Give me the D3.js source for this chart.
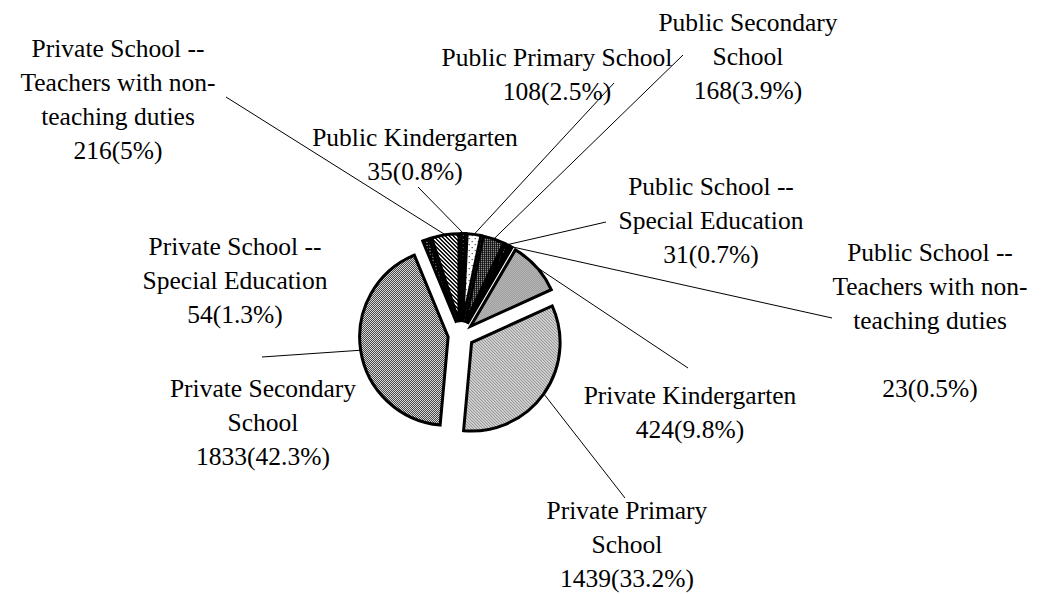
<!DOCTYPE html>
<html>
<head>
<meta charset="utf-8">
<script src="https://cdn.jsdelivr.net/npm/d3@7/dist/d3.min.js"></script>
<style>
  html, body { margin: 0; padding: 0; background: #fff; }
  svg { display: block; }
  text { font-family: "Liberation Serif", "Times New Roman", serif; font-size: 25.5px; fill: #000; }
</style>
</head>
<body>
<svg id="chart" width="1055" height="594"></svg>
<script>
// Teachers by school type (count and printed share)
const categories = [
  "Public Kindergarten",
  "Public Primary School",
  "Public Secondary School",
  "Public School -- Special Education",
  "Public School -- Teachers with non-teaching duties",
  "Private Kindergarten",
  "Private Primary School",
  "Private Secondary School",
  "Private School -- Special Education",
  "Private School -- Teachers with non-teaching duties"
];
const values = [35, 108, 168, 31, 23, 424, 1439, 1833, 54, 216];
const shares = ["0.8%", "2.5%", "3.9%", "0.7%", "0.5%", "9.8%", "33.2%", "42.3%", "1.3%", "5%"];

// Wrapped label text for each slice
const labelText = [
  ["Public Kindergarten"],
  ["Public Primary School"],
  ["Public Secondary", "School"],
  ["Public School --", "Special Education"],
  ["Public School --", "Teachers with non-", "teaching duties", ""],
  ["Private Kindergarten"],
  ["Private Primary", "School"],
  ["Private Secondary", "School"],
  ["Private School --", "Special Education"],
  ["Private School --", "Teachers with non-", "teaching duties"]
];

// Label placement (centre of first line) and leader-line anchor near each label
const labelPos = [
  { x: 415, y: 137, lead: [418, 187] },
  { x: 557, y: 57,  lead: [614, 83] },
  { x: 748, y: 22,  lead: [683, 55] },
  { x: 711, y: 186, lead: [606, 222] },
  { x: 930, y: 252, lead: [832, 318] },
  { x: 690, y: 395, lead: [688, 368] },
  { x: 627, y: 510, lead: [625, 498] },
  { x: 263, y: 388, lead: [262, 357] },
  { x: 235, y: 246, lead: null },
  { x: 118, y: 48,  lead: [226, 97] }
];

const cx = 461, cy = 335, R = 88.5, explode = 13, lineGap = 34.2;

const svg = d3.select("#chart");
const defs = svg.append("defs");

// Pixel fill patterns
function pixelPattern(id, size, bg, fg, cells) {
  const p = defs.append("pattern")
    .attr("id", id).attr("patternUnits", "userSpaceOnUse")
    .attr("width", size).attr("height", size);
  p.append("rect").attr("width", size).attr("height", size).attr("fill", bg);
  cells.forEach(([x, y]) => p.append("rect")
    .attr("x", x).attr("y", y).attr("width", 1).attr("height", 1)
    .attr("fill", fg).attr("shape-rendering", "crispEdges"));
  return "url(#" + id + ")";
}

const fills = [
  pixelPattern("pKinder", 4, "#000", "#fff", [[1, 1]]),
  pixelPattern("pPrimary", 6, "#fff", "#000", [[0, 0], [3, 3]]),
  pixelPattern("pSecondary", 2, "#000", "#fff", [[0, 0]]),
  pixelPattern("pSpecial", 4, "#000", "#fff", [[0, 0], [1, 1]]),
  pixelPattern("pDuties", 4, "#000", "#fff", [[3, 0], [2, 1]]),
  pixelPattern("prKinder", 2, "#fff", "#555", [[0, 0], [1, 1]]),
  pixelPattern("prPrimary", 3, "#fff", "#333", [[0, 0], [1, 1], [2, 2]]),
  pixelPattern("prSecondary", 4, "#fff", "#222", [[0, 0], [1, 1], [2, 2], [3, 3], [2, 0], [3, 1], [0, 2], [1, 3]]),
  pixelPattern("prSpecial", 3, "#000", "#fff", [[0, 0]]),
  pixelPattern("prDuties", 4, "#fff", "#000", [[0, 0], [1, 1], [2, 2], [3, 3], [1, 0], [2, 1], [3, 2], [0, 3]])
];

const pie = d3.pie().sort(null).value(d => d)(values);
const arc = d3.arc().innerRadius(0).outerRadius(R);

const g = svg.append("g").attr("transform", `translate(${cx},${cy})`);

function offsetOf(d) {
  const a = (d.startAngle + d.endAngle) / 2;
  return [Math.sin(a) * explode, -Math.cos(a) * explode];
}

g.selectAll("path.slice")
  .data(pie)
  .join("path")
  .attr("class", "slice")
  .attr("d", arc)
  .attr("transform", d => { const [dx, dy] = offsetOf(d); return `translate(${dx},${dy})`; })
  .attr("fill", (d, i) => fills[i])
  .attr("stroke", "#000")
  .attr("stroke-width", 3)
  .attr("stroke-linejoin", "miter");

// Leader lines from slice edge to label
pie.forEach((d, i) => {
  const lp = labelPos[i];
  if (!lp.lead) return;
  const a = (d.startAngle + d.endAngle) / 2;
  const [dx, dy] = offsetOf(d);
  const sx = cx + dx + Math.sin(a) * R;
  const sy = cy + dy - Math.cos(a) * R;
  svg.append("line")
    .attr("x1", sx).attr("y1", sy)
    .attr("x2", lp.lead[0]).attr("y2", lp.lead[1])
    .attr("stroke", "#000").attr("stroke-width", 1);
});

// Labels: wrapped name followed by "count(share)"
labelText.forEach((lines, i) => {
  const lp = labelPos[i];
  const all = lines.concat([values[i] + "(" + shares[i] + ")"]);
  const t = svg.append("text").attr("text-anchor", "middle");
  all.forEach((ln, k) => {
    t.append("tspan")
      .attr("x", lp.x)
      .attr("y", lp.y + k * lineGap)
      .attr("dominant-baseline", "central")
      .text(ln);
  });
});
</script>
</body>
</html>
